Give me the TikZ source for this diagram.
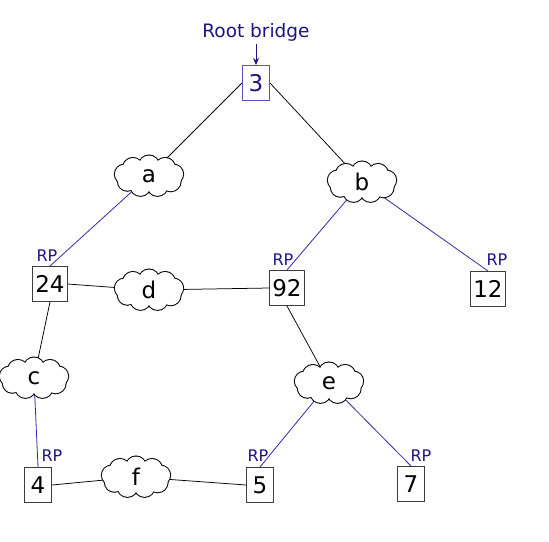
\documentclass[tikz,border=0pt]{standalone}
\usepackage{fontspec}
\setmainfont{DejaVu Sans}
\usetikzlibrary{shapes.geometric,arrows.meta}
\pgfdeclarelayer{bg}
\pgfsetlayers{bg,main}
\definecolor{navy}{RGB}{30,20,130}
\definecolor{linkblue}{RGB}{50,40,170}
\definecolor{boxgray}{RGB}{60,60,60}
\tikzset{
  bridge/.style={draw=boxgray,line width=1pt,fill=white,minimum width=27pt,minimum height=35pt,inner sep=2.5pt,font=\fontsize{23}{27}\selectfont},
  rootbox/.style={bridge,draw=linkblue!80,text=navy},
  lan/.style={ellipse,minimum width=60pt,minimum height=32pt,inner sep=0pt,font=\fontsize{23}{27}\selectfont},
  rp/.style={text=navy,font=\fontsize{16}{19}\selectfont,inner sep=0pt},
  blk/.style={draw=black,line width=0.75pt},
  blu/.style={draw=linkblue,line width=0.8pt}
}
\newcommand\lancloud[1]{%
  \foreach \ang/\r in {0/9.5,40/10,80/10,120/10,160/9.5,200/9.5,240/10,280/10,320/10}
    \draw[black,line width=2pt] (#1) ++(\ang+10:25pt and 10.5pt) circle (\r pt);
  \foreach \ang/\r in {0/9.5,40/10,80/10,120/10,160/9.5,200/9.5,240/10,280/10,320/10}
    \fill[white] (#1) ++(\ang+10:25pt and 10.5pt) circle (\r pt);
  \fill[white] (#1) ellipse (25pt and 10.5pt);
}
\begin{document}
\begin{tikzpicture}[x=1pt,y=-1pt]
\useasboundingbox (0,0) rectangle (549,541);
\lancloud{149,176}
\lancloud{362,182}
\lancloud{149,290}
\lancloud{34,378}
\lancloud{329,383}
\lancloud{136,477}
\node[text=navy,font=\fontsize{18.5}{22}\selectfont,inner sep=0pt] (root) at (256,32) {Root bridge};
\node[rootbox] (b3) at (256,83) {3};
\node[lan] (a) at (149,176) {a};
\node[lan] (b) at (362,182) {b};
\node[bridge] (b24) at (50,284) {24};
\node[lan] (d) at (149,290) {d};
\node[bridge] (b92) at (287,288) {92};
\node[bridge] (b12) at (488,289) {12};
\node[lan] (c) at (34,378) {c};
\node[lan] (e) at (329,383) {e};
\node[bridge] (b4) at (38,485) {4};
\node[lan] (f) at (136,477) {f};
\node[bridge] (b5) at (260,485) {5};
\node[bridge] (b7) at (411,484) {7};
\node[rp] (rp24) at (47,256) {RP};
\node[rp] (rp92) at (283,260) {RP};
\node[rp] (rp12) at (497,260) {RP};
\node[rp] (rp4) at (52,456) {RP};
\node[rp] (rp5) at (258,456) {RP};
\node[rp] (rp7) at (421,456) {RP};
\draw[navy,line width=1pt,-{Stealth[length=7pt,width=6pt]}] (root.south) ++(0,3) coordinate (rs) -- (b3.north);
\begin{pgfonlayer}{bg}
\draw[blk] (b3.west) -- (a);
\draw[blk] (b3.east) -- (b);
\draw[blu] (a) -- (b24.north);
\draw[blu] (b) -- (b92.north);
\draw[blu] (b) -- (b12.north);
\draw[blk] (b24.east) -- (d);
\draw[blk] (d) -- (b92.west);
\draw[blk] (b24.south) -- (c);
\draw[blu] (c) -- (b4.north);
\draw[blk] (b92.south) -- (e);
\draw[blu] (e) -- (b5.north);
\draw[blu] (e) -- (b7.north);
\draw[blk] (b4.east) -- (f);
\draw[blk] (f) -- (b5.west);
\end{pgfonlayer}
\end{tikzpicture}
\end{document}
